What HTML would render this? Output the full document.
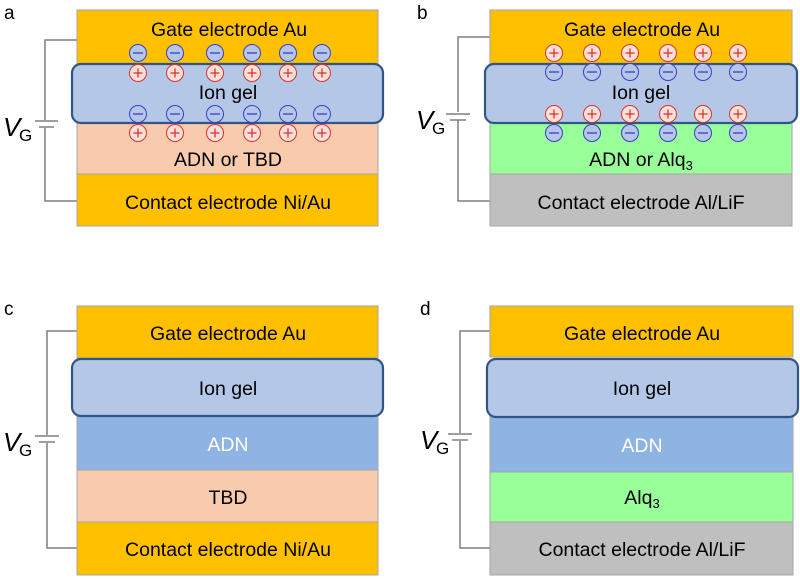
<!DOCTYPE html>
<html><head><meta charset="utf-8"><style>
html,body{margin:0;padding:0;background:#fff;}
svg{display:block;font-family:"Liberation Sans",Arial,sans-serif;}
.t{font-size:19.5px;}
</style></head><body>
<svg width="800" height="579" viewBox="0 0 800 579" xmlns="http://www.w3.org/2000/svg">
<defs>
<g id="minus"><circle r="8.5" fill="#B4C7E7" stroke="#3B3BD0" stroke-width="1"/><line x1="-5" y1="0" x2="5" y2="0" stroke="#3B3BD0" stroke-width="1.3"/></g>
<g id="plus"><circle r="8.5" fill="#FBE0D8" stroke="#E03030" stroke-width="1"/><line x1="-4.5" y1="0" x2="4.5" y2="0" stroke="#E03030" stroke-width="1.3"/><line x1="0" y1="-4.5" x2="0" y2="4.5" stroke="#E03030" stroke-width="1.3"/></g>
</defs>

<!-- Panel a -->
<text x="4" y="19" font-size="19">a</text>
<polyline points="77,40 45,40 45,120" fill="none" stroke="#7f7f7f" stroke-width="1.5"/>
<polyline points="45,128 45,201 77,201" fill="none" stroke="#7f7f7f" stroke-width="1.5"/>
<line x1="35" y1="121" x2="58" y2="121" stroke="#7f7f7f" stroke-width="1.5"/>
<line x1="39" y1="127" x2="54" y2="127" stroke="#7f7f7f" stroke-width="1.5"/>
<text x="3" y="136" font-size="26" font-style="italic">V</text><text x="19" y="141" font-size="17">G</text>
<rect x="77" y="10" width="301" height="54" fill="#FFC000" stroke="#a6a6a6" stroke-width="1"/>
<rect x="77" y="123" width="301" height="51" fill="#F8CBAD" stroke="#a6a6a6" stroke-width="1"/>
<rect x="77" y="174" width="301" height="52" fill="#FFC000" stroke="#a6a6a6" stroke-width="1"/>
<rect x="72" y="64" width="311" height="59" rx="9" fill="#B4C7E7" stroke="#2F5584" stroke-width="2.2"/>
<text class="t" x="229" y="36" text-anchor="middle">Gate electrode Au</text>
<text class="t" x="228" y="99" text-anchor="middle">Ion gel</text>
<text class="t" x="228" y="166" text-anchor="middle">ADN or TBD</text>
<text class="t" x="228" y="209" text-anchor="middle">Contact electrode Ni/Au</text>
<g>
<use href="#minus" x="138" y="53"/><use href="#minus" x="175" y="53"/><use href="#minus" x="215" y="53"/><use href="#minus" x="252" y="53"/><use href="#minus" x="288" y="53"/><use href="#minus" x="322" y="53"/>
<use href="#plus" x="138" y="73"/><use href="#plus" x="175" y="73"/><use href="#plus" x="215" y="73"/><use href="#plus" x="252" y="73"/><use href="#plus" x="288" y="73"/><use href="#plus" x="322" y="73"/>
<use href="#minus" x="138" y="114"/><use href="#minus" x="175" y="114"/><use href="#minus" x="215" y="114"/><use href="#minus" x="252" y="114"/><use href="#minus" x="288" y="114"/><use href="#minus" x="322" y="114"/>
<use href="#plus" x="138" y="133"/><use href="#plus" x="175" y="133"/><use href="#plus" x="215" y="133"/><use href="#plus" x="252" y="133"/><use href="#plus" x="288" y="133"/><use href="#plus" x="322" y="133"/>
</g>

<!-- Panel b -->
<text x="417" y="19" font-size="19">b</text>
<polyline points="490,37 458,37 458,112" fill="none" stroke="#7f7f7f" stroke-width="1.5"/>
<polyline points="458,120 458,201 490,201" fill="none" stroke="#7f7f7f" stroke-width="1.5"/>
<line x1="446" y1="114" x2="470" y2="114" stroke="#7f7f7f" stroke-width="1.5"/>
<line x1="450" y1="120" x2="466" y2="120" stroke="#7f7f7f" stroke-width="1.5"/>
<text x="416" y="129" font-size="26" font-style="italic">V</text><text x="432" y="134" font-size="17">G</text>
<rect x="490" y="10" width="302" height="54" fill="#FFC000" stroke="#a6a6a6" stroke-width="1"/>
<rect x="490" y="123" width="302" height="51" fill="#99FF99" stroke="#a6a6a6" stroke-width="1"/>
<rect x="490" y="174" width="302" height="52" fill="#BFBFBF" stroke="#a6a6a6" stroke-width="1"/>
<rect x="485" y="64" width="312" height="59" rx="9" fill="#B4C7E7" stroke="#2F5584" stroke-width="2.2"/>
<text class="t" x="642" y="36" text-anchor="middle">Gate electrode Au</text>
<text class="t" x="641" y="99" text-anchor="middle">Ion gel</text>
<text class="t" x="641" y="166" text-anchor="middle">ADN or Alq<tspan font-size="13" dy="4">3</tspan></text>
<text class="t" x="641" y="209" text-anchor="middle">Contact electrode Al/LiF</text>
<g>
<use href="#plus" x="554" y="53"/><use href="#plus" x="592" y="53"/><use href="#plus" x="630" y="53"/><use href="#plus" x="668" y="53"/><use href="#plus" x="703" y="53"/><use href="#plus" x="738" y="53"/>
<use href="#minus" x="554" y="72"/><use href="#minus" x="592" y="72"/><use href="#minus" x="630" y="72"/><use href="#minus" x="668" y="72"/><use href="#minus" x="703" y="72"/><use href="#minus" x="738" y="72"/>
<use href="#plus" x="554" y="114"/><use href="#plus" x="592" y="114"/><use href="#plus" x="630" y="114"/><use href="#plus" x="668" y="114"/><use href="#plus" x="703" y="114"/><use href="#plus" x="738" y="114"/>
<use href="#minus" x="554" y="133"/><use href="#minus" x="592" y="133"/><use href="#minus" x="630" y="133"/><use href="#minus" x="668" y="133"/><use href="#minus" x="703" y="133"/><use href="#minus" x="738" y="133"/>
</g>

<!-- Panel c -->
<text x="4" y="315" font-size="19">c</text>
<polyline points="77,331 47,331 47,435" fill="none" stroke="#7f7f7f" stroke-width="1.5"/>
<polyline points="47,443 47,548 77,548" fill="none" stroke="#7f7f7f" stroke-width="1.5"/>
<line x1="35" y1="436" x2="59" y2="436" stroke="#7f7f7f" stroke-width="1.5"/>
<line x1="39" y1="442" x2="55" y2="442" stroke="#7f7f7f" stroke-width="1.5"/>
<text x="3" y="451" font-size="26" font-style="italic">V</text><text x="19" y="456" font-size="17">G</text>
<rect x="77" y="306" width="301" height="52" fill="#FFC000" stroke="#a6a6a6" stroke-width="1"/>
<rect x="77" y="416" width="301" height="54" fill="#8EB4E3" stroke="#a6a6a6" stroke-width="1"/>
<rect x="77" y="470" width="301" height="52" fill="#F8CBAD" stroke="#a6a6a6" stroke-width="1"/>
<rect x="77" y="522" width="301" height="53" fill="#FFC000" stroke="#a6a6a6" stroke-width="1"/>
<rect x="72" y="359" width="311" height="57" rx="9" fill="#B4C7E7" stroke="#2F5584" stroke-width="2.2"/>
<text class="t" x="228" y="340" text-anchor="middle">Gate electrode Au</text>
<text class="t" x="228" y="395" text-anchor="middle">Ion gel</text>
<text class="t" x="228" y="451" text-anchor="middle" fill="#fff">ADN</text>
<text class="t" x="228" y="504" text-anchor="middle">TBD</text>
<text class="t" x="228" y="556" text-anchor="middle">Contact electrode Ni/Au</text>

<!-- Panel d -->
<text x="420" y="315" font-size="19">d</text>
<polyline points="490,331 460,331 460,433" fill="none" stroke="#7f7f7f" stroke-width="1.5"/>
<polyline points="460,441 460,548 490,548" fill="none" stroke="#7f7f7f" stroke-width="1.5"/>
<line x1="448" y1="434" x2="472" y2="434" stroke="#7f7f7f" stroke-width="1.5"/>
<line x1="452" y1="440" x2="468" y2="440" stroke="#7f7f7f" stroke-width="1.5"/>
<text x="420" y="449" font-size="26" font-style="italic">V</text><text x="436" y="454" font-size="17">G</text>
<rect x="490" y="306" width="303" height="51" fill="#FFC000" stroke="#a6a6a6" stroke-width="1"/>
<rect x="490" y="416" width="303" height="56" fill="#8EB4E3" stroke="#a6a6a6" stroke-width="1"/>
<rect x="490" y="472" width="303" height="50" fill="#99FF99" stroke="#a6a6a6" stroke-width="1"/>
<rect x="490" y="522" width="303" height="53" fill="#BFBFBF" stroke="#a6a6a6" stroke-width="1"/>
<rect x="487" y="359" width="311" height="58" rx="9" fill="#B4C7E7" stroke="#2F5584" stroke-width="2.2"/>
<text class="t" x="642" y="340" text-anchor="middle">Gate electrode Au</text>
<text class="t" x="642" y="395" text-anchor="middle">Ion gel</text>
<text class="t" x="642" y="452" text-anchor="middle" fill="#fff">ADN</text>
<text class="t" x="642" y="504" text-anchor="middle">Alq<tspan font-size="13" dy="4">3</tspan></text>
<text class="t" x="642" y="556" text-anchor="middle">Contact electrode Al/LiF</text>
</svg>
</body></html>
